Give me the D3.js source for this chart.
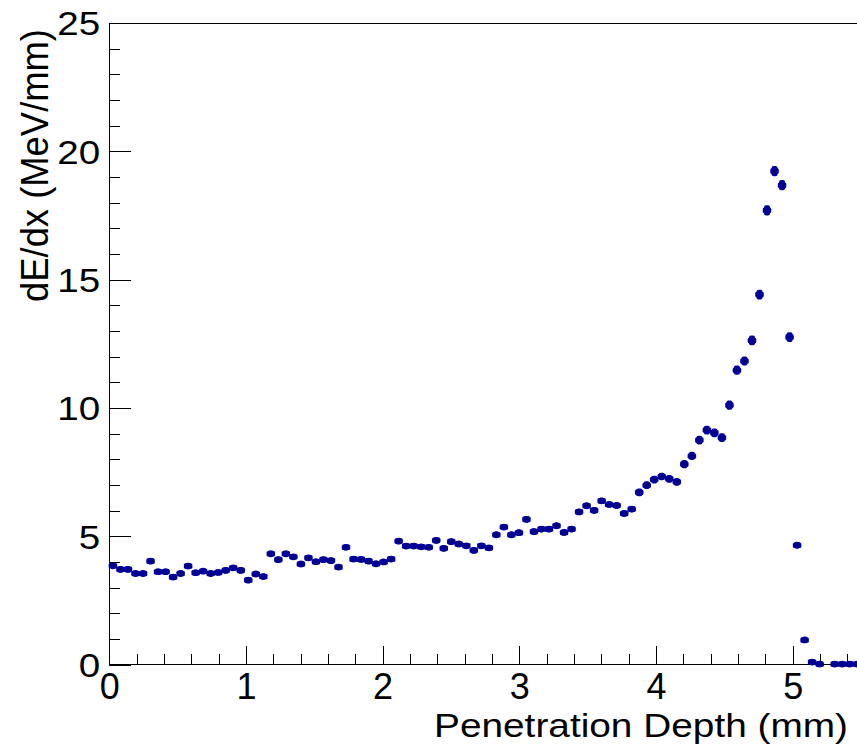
<!DOCTYPE html>
<html>
<head>
<meta charset="utf-8">
<script src="https://cdn.jsdelivr.net/npm/d3@7/dist/d3.min.js"></script>
<style>
  html, body { margin: 0; padding: 0; background: #ffffff; }
  svg { display: block; }
  text { font-family: "Liberation Sans", Arial, Helvetica, sans-serif; fill: #000; }
</style>
</head>
<body>
<svg id="chart" width="857" height="747"></svg>
<script>
// ---- data ----
const binWidth = 0.055;
const depth = [
  0.0275, 0.0825, 0.1375, 0.1925, 0.2475, 0.3025, 0.3575, 0.4125, 0.4675, 0.5225,
  0.5775, 0.6325, 0.6875, 0.7425, 0.7975, 0.8525, 0.9075, 0.9625, 1.0175, 1.0725,
  1.1275, 1.1825, 1.2375, 1.2925, 1.3475, 1.4025, 1.4575, 1.5125, 1.5675, 1.6225,
  1.6775, 1.7325, 1.7875, 1.8425, 1.8975, 1.9525, 2.0075, 2.0625, 2.1175, 2.1725,
  2.2275, 2.2825, 2.3375, 2.3925, 2.4475, 2.5025, 2.5575, 2.6125, 2.6675, 2.7225,
  2.7775, 2.8325, 2.8875, 2.9425, 2.9975, 3.0525, 3.1075, 3.1625, 3.2175, 3.2725,
  3.3275, 3.3825, 3.4375, 3.4925, 3.5475, 3.6025, 3.6575, 3.7125, 3.7675, 3.8225,
  3.8775, 3.9325, 3.9875, 4.0425, 4.0975, 4.1525, 4.2075, 4.2625, 4.3175, 4.3725,
  4.4275, 4.4825, 4.5375, 4.5925, 4.6475, 4.7025, 4.7575, 4.8125, 4.8675, 4.9225,
  4.9775, 5.0325, 5.0875, 5.1425, 5.1975, 5.2525, 5.3075, 5.3625, 5.4175, 5.4725
];
const dEdx = [
  3.85, 3.71, 3.71, 3.55, 3.55, 4.03, 3.62, 3.62, 3.41, 3.55,
  3.84, 3.58, 3.64, 3.55, 3.59, 3.67, 3.77, 3.67, 3.29, 3.53,
  3.43, 4.32, 4.09, 4.32, 4.20, 3.92, 4.16, 4.01, 4.09, 4.05,
  3.80, 4.57, 4.11, 4.10, 4.03, 3.93, 4.00, 4.11, 4.81, 4.62,
  4.62, 4.59, 4.57, 4.84, 4.53, 4.79, 4.70, 4.63, 4.45, 4.63,
  4.55, 5.06, 5.36, 5.06, 5.14, 5.66, 5.18, 5.28, 5.28, 5.41,
  5.15, 5.28, 5.95, 6.19, 6.01, 6.38, 6.24, 6.20, 5.89, 6.06,
  6.71, 6.99, 7.21, 7.33, 7.24, 7.12, 7.81, 8.13, 8.75, 9.14,
  9.03, 8.84, 10.11, 11.47, 11.83, 12.63, 14.42, 17.70, 19.23, 18.68,
  12.76, 4.65, 0.96, 0.10, 0.02, null, 0.02, 0.02, 0.02, 0.02
];
// vertical error bar half-widths
const dEdxErr = [
  0.10, 0.10, 0.10, 0.10, 0.10, 0.10, 0.10, 0.10, 0.10, 0.10,
  0.10, 0.10, 0.10, 0.10, 0.10, 0.10, 0.10, 0.10, 0.10, 0.10,
  0.10, 0.10, 0.10, 0.10, 0.10, 0.10, 0.10, 0.10, 0.10, 0.10,
  0.10, 0.10, 0.10, 0.10, 0.10, 0.10, 0.10, 0.10, 0.10, 0.10,
  0.10, 0.10, 0.10, 0.10, 0.10, 0.10, 0.10, 0.10, 0.10, 0.10,
  0.10, 0.12, 0.12, 0.12, 0.12, 0.12, 0.12, 0.12, 0.12, 0.12,
  0.12, 0.12, 0.12, 0.12, 0.12, 0.12, 0.12, 0.12, 0.12, 0.12,
  0.15, 0.15, 0.15, 0.15, 0.15, 0.15, 0.16, 0.16, 0.17, 0.17,
  0.17, 0.17, 0.18, 0.18, 0.18, 0.19, 0.19, 0.20, 0.20, 0.20,
  0.19, 0.12, 0.09, 0.09, 0.09, null, 0.09, 0.09, 0.09, 0.09
];
const xTicks = [0, 1, 2, 3, 4, 5];
const yTicks = [0, 5, 10, 15, 20, 25];
const xTitle = "Penetration Depth (mm)";
const yTitle = "dE/dx (MeV/mm)";

// ---- layout ----
const svg = d3.select("#chart");
const x = d3.scaleLinear().domain([0, 5.5]).range([109.2, 861]);
const y = d3.scaleLinear().domain([0, 25]).range([664.6, 23]);
const markColor = "#000099";

// frame
svg.append("rect")
  .attr("x", x(0)).attr("y", y(25))
  .attr("width", x(5.5) - x(0)).attr("height", y(0) - y(25))
  .attr("fill", "none").attr("stroke", "#000").attr("stroke-width", 1)
  .attr("shape-rendering", "crispEdges");

// x axis (ticks pointing up, inside the frame)
const xMinor = d3.range(0, 5.5001, 0.2).map(v => +v.toFixed(2));
const xAxisMinor = d3.axisBottom(x).tickValues(xMinor).tickSize(-11).tickFormat("");
const xAxisMajor = d3.axisBottom(x).tickValues(xTicks).tickSize(-19).tickFormat(d3.format("d"));
const gxm = svg.append("g").attr("transform", `translate(0,${y(0)})`).call(xAxisMinor);
const gx = svg.append("g").attr("transform", `translate(0,${y(0)})`).call(xAxisMajor);
[gxm, gx].forEach(g => {
  g.select(".domain").remove();
  g.selectAll("line").attr("stroke", "#000").attr("shape-rendering", "crispEdges");
});
gx.selectAll("text")
  .attr("y", 34).attr("dy", 0)
  .attr("font-size", 36)
  .attr("font-family", "Liberation Sans, Arial, sans-serif")
  .attr("fill", "#000");

// y axis (ticks pointing right, inside the frame)
const yMinor = d3.range(0, 25.001, 1);
const yAxisMinor = d3.axisLeft(y).tickValues(yMinor).tickSize(-11).tickFormat("");
const yAxisMajor = d3.axisLeft(y).tickValues(yTicks).tickSize(-21.5).tickFormat(d3.format("d"));
const gym = svg.append("g").attr("transform", `translate(${x(0)},0)`).call(yAxisMinor);
const gy = svg.append("g").attr("transform", `translate(${x(0)},0)`).call(yAxisMajor);
[gym, gy].forEach(g => {
  g.select(".domain").remove();
  g.selectAll("line").attr("stroke", "#000").attr("shape-rendering", "crispEdges");
});
const ySx = 1.17;
gy.selectAll("text")
  .attr("x", -9 / ySx).attr("dy", "0.36em")
  .attr("transform", `scale(${ySx},1)`)
  .attr("font-size", 33)
  .attr("font-family", "Liberation Sans, Arial, sans-serif")
  .attr("fill", "#000");

// axis titles
svg.append("text")
  .attr("x", 848).attr("y", 737)
  .attr("text-anchor", "end")
  .attr("font-size", 33)
  .attr("textLength", 414).attr("lengthAdjust", "spacingAndGlyphs")
  .text(xTitle);
svg.append("text")
  .attr("transform", "translate(48,302) rotate(-90)")
  .attr("x", 0).attr("y", 0)
  .attr("text-anchor", "start")
  .attr("font-size", 38)
  .attr("textLength", 273).attr("lengthAdjust", "spacingAndGlyphs")
  .text(yTitle);

// data markers: filled circle + horizontal (bin width) and vertical error bars
const pts = depth.map((d, i) => ({ d, v: dEdx[i], e: dEdxErr[i] })).filter(p => p.v !== null);
const gm = svg.append("g");
gm.selectAll("rect.hbar").data(pts).enter().append("rect")
  .attr("class", "hbar")
  .attr("x", p => x(p.d - binWidth / 2) - 0.5)
  .attr("width", p => x(p.d + binWidth / 2) - x(p.d - binWidth / 2) + 1)
  .attr("y", p => y(p.v) - 2.8)
  .attr("height", 5.6)
  .attr("rx", 1.6)
  .attr("fill", markColor);
gm.selectAll("rect.vbar").data(pts).enter().append("rect")
  .attr("class", "vbar")
  .attr("x", p => x(p.d) - 3)
  .attr("width", 6)
  .attr("y", p => Math.min(y(p.v + p.e), y(p.v) - 2.8))
  .attr("height", p => Math.max(y(p.v - p.e) - y(p.v + p.e), 5.6))
  .attr("rx", 2)
  .attr("fill", markColor);
gm.selectAll("circle.mk").data(pts).enter().append("circle")
  .attr("class", "mk")
  .attr("cx", p => x(p.d))
  .attr("cy", p => y(p.v))
  .attr("r", 3.4)
  .attr("fill", markColor);
gm.selectAll("rect.dot").data(pts).enter().append("rect")
  .attr("class", "dot")
  .attr("x", p => x(p.d) - 0.5)
  .attr("y", p => y(p.v) - 0.5)
  .attr("width", 1).attr("height", 1)
  .attr("fill", "#000");
</script>
</body>
</html>
